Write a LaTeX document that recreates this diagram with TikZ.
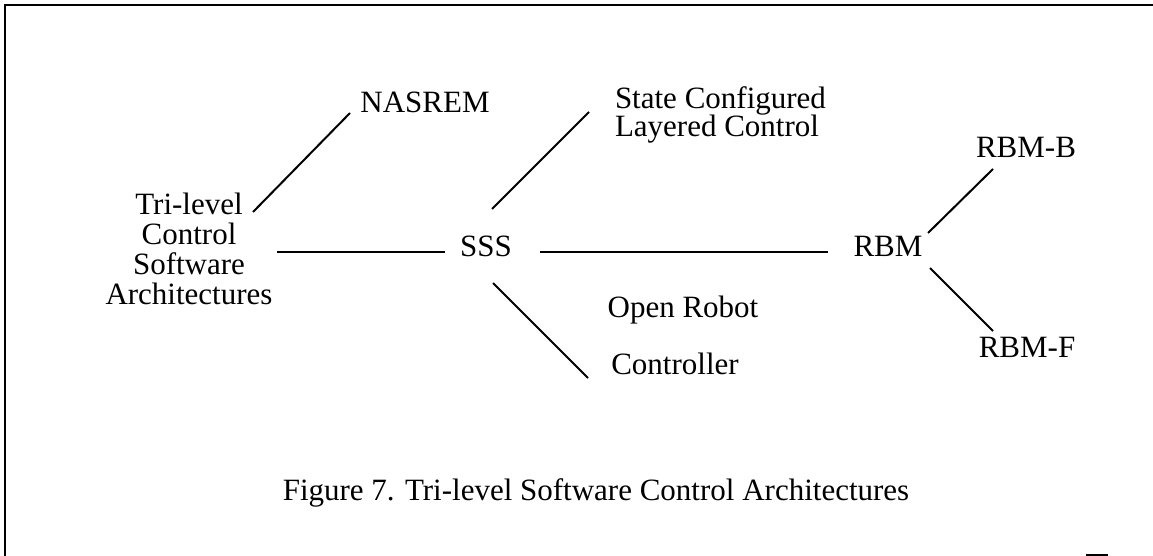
\documentclass[tikz,border=0pt]{standalone}
\usepackage{fontspec}
\setmainfont{Liberation Serif}
\setlength{\lineskiplimit}{-\maxdimen}
\begin{document}
\begin{tikzpicture}[x=0.5pt,y=-0.5pt,
  lbl/.style={inner sep=0pt, outer sep=0pt, font=\fontsize{15.5}{15}\selectfont, text height=0.7em, text depth=0.25em},
  blk/.style={inner sep=0pt, outer sep=0pt},
  conn/.style={line width=1pt},
  frame/.style={line width=1pt}]
\useasboundingbox (0,0) rectangle (1153,556);
\fill[white] (0,0) rectangle (1153,556);
% frame
\draw[frame] (1153,5) -- (5,5) -- (5,556);
\draw[line width=0.8pt] (1086,555) -- (1108,555);
% nodes
\node[lbl] (nasrem) at (425,108) {NASREM};
\node[blk, align=center, font=\fontsize{15.5}{15}\selectfont] (tri) at (189,249) {Tri-level\\Control\\Software\\Architectures};
\node[blk, align=left, anchor=west, font=\fontsize{15.5}{14}\selectfont] (sclc) at (615,115) {State Configured\\Layered Control};
\node[lbl] (sss) at (486,252) {SSS};
\node[lbl] (rbm) at (888,252) {RBM};
\node[lbl] (rbmb) at (1026,153) {RBM-B};
\node[lbl] (rbmf) at (1027,353) {RBM-F};
\node[lbl] (openrobot) at (683,313) {Open Robot};
\node[lbl] (controller) at (675,370) {Controller};
\node[lbl] (caption) at (596,496) {Figure 7. Tri-level Software Control Architectures};
% connectors
\draw[conn] ([shift={(64,-37)}]tri.center) -- ([shift={(-75,5)}]nasrem.center);
\draw[conn] ([shift={(88,3)}]tri.center) -- ([shift={(-41,0)}]sss.center);
\draw[conn] ([shift={(6,-43)}]sss.center) -- ([shift={(-26,-3)}]sclc.west);
\draw[conn] ([shift={(7,31)}]sss.center) -- ([shift={(-87,8)}]controller.center);
\draw[conn] ([shift={(54,0)}]sss.center) -- ([shift={(-60,0)}]rbm.center);
\draw[conn] ([shift={(40,-19)}]rbm.center) -- ([shift={(-33,16)}]rbmb.center);
\draw[conn] ([shift={(42,16)}]rbm.center) -- ([shift={(-34,-22)}]rbmf.center);
\end{tikzpicture}
\end{document}
